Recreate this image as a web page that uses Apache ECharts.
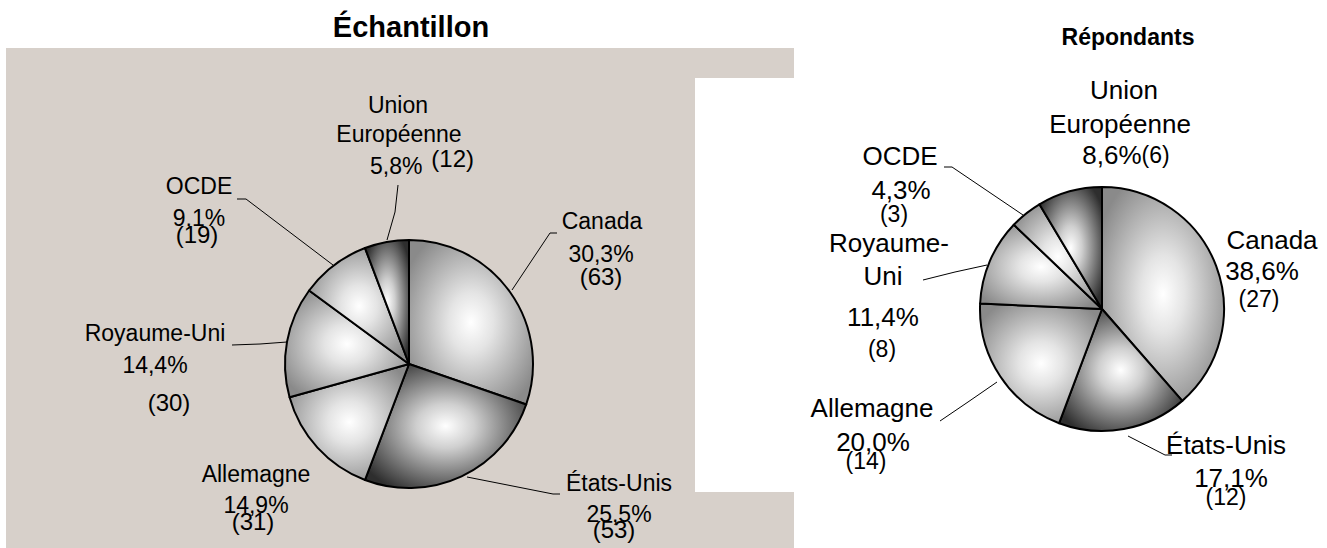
<!DOCTYPE html>
<html>
<head>
<meta charset="utf-8">
<title>Échantillon / Répondants</title>
<script src="https://cdn.jsdelivr.net/npm/echarts@6/dist/echarts.min.js"></script>
<style>
  html, body { margin: 0; background: #fff; }
  #chart { width: 1327px; height: 548px; }
</style>
</head>
<body>
<div id="chart"></div>
<script>
const categories = ['Canada', 'États-Unis', 'Allemagne', 'Royaume-Uni', 'OCDE', 'Union Européenne'];
const sampleCounts = [63, 53, 31, 30, 19, 12];
const respondentCounts = [27, 12, 14, 8, 3, 6];
const sampleTitle = 'Échantillon';
const respondentTitle = 'Répondants';
// how each chart breaks the long names
const sampleLabelNames = ['Canada', 'États-Unis', 'Allemagne', 'Royaume-Uni', 'OCDE', 'Union\nEuropéenne'];
const respondentLabelNames = ['Canada', 'États-Unis', 'Allemagne', 'Royaume-\nUni', 'OCDE', 'Union\nEuropéenne'];

const FONT = '"Liberation Sans", Arial, sans-serif';

// label rows: [part, centre x, middle y, raise]  n0/n1 = name lines, p = percent, c = count, pc = percent + count
const sampleRows = [
    [['n0', 602, 221], ['p', 601, 254], ['c', 601, 276]],
    [['n0', 619, 483], ['p', 619, 514], ['c', 614, 529]],
    [['n0', 256, 474], ['p', 256, 505], ['c', 253, 521]],
    [['n0', 155, 333], ['p', 155, 365], ['c', 169, 402]],
    [['n0', 199, 186], ['p', 199, 218], ['c', 197, 234]],
    [['n0', 398, 105], ['n1', 399, 134], ['pc', 422, 166, 8]]
];
const respondentRows = [
    [['n0', 1272, 240], ['p', 1262, 271], ['c', 1259, 299]],
    [['n0', 1226, 445], ['p', 1231, 478], ['c', 1226, 497]],
    [['n0', 872, 408], ['p', 873, 442], ['c', 866, 461]],
    [['n0', 889, 243], ['n1', 883, 276], ['p', 883, 317], ['c', 882, 349]],
    [['n0', 900, 156], ['p', 901, 190], ['c', 894, 214]],
    [['n0', 1124, 90], ['n1', 1120, 124], ['pc', 1126, 155, 0]]
];
// leader lines (null = none)
const sampleLines = [
    [[557, 233], [550, 233], [512, 290]],
    [[560, 494], [553, 494], [467, 477]],
    null,
    [[232, 345], [260, 344], [287, 342]],
    [[237, 199], [246, 199], [333, 265]],
    [[398, 185], [395, 212], [387, 240]]
];
const respondentLines = [
    null,
    [[1172, 455], [1165, 455], [1128, 436]],
    [[940, 421], [968, 402], [997, 382]],
    [[923, 280], [955, 272], [987, 265]],
    [[944, 167], [952, 167], [1023, 215]],
    null
];
const sampleShades = ['light', 'dark', 'light', 'light', 'light', 'dark'];
const respondentShades = ['light', 'dark', 'light', 'light', 'light', 'dark'];

function shadeFill(kind) {
    const edge = kind === 'dark' ? '#2e2e2e' : '#8a8a8a';
    const mid = kind === 'dark' ? '#cfcfcf' : '#e4e4e4';
    return {
        type: 'radial', x: 0.5, y: 0.5, r: 0.6,
        colorStops: [
            { offset: 0, color: '#ffffff' },
            { offset: 0.3, color: mid },
            { offset: 1, color: edge }
        ]
    };
}

// half line heights so every row's middle lands on its y
function fitHalves(ys) {
    let best = null;
    for (let h0 = 4; h0 <= 30; h0 += 0.5) {
        const hs = [h0];
        for (let j = 1; j < ys.length; j++) hs.push(ys[j] - ys[j - 1] - hs[j - 1]);
        if (!best || Math.min(...hs) > Math.min(...best)) best = hs;
    }
    return best;
}

function buildPie(values, labelNames, rows, lines, shades, center, radius, textSize, countSize) {
    const total = values.reduce((a, b) => a + b, 0);
    const rich = {};
    const texts = [];
    const anchors = [];
    values.forEach((v, i) => {
        const nameParts = labelNames[i].split('\n');
        const pct = (v / total * 100).toFixed(1).replace('.', ',') + '%';
        const r = rows[i];
        const x0 = r[0][1];
        const halves = fitHalves(r.map(row => row[2]));
        anchors.push([x0, r[0][2] - halves[0]]);
        const parts = r.map((row, j) => {
            const kind = row[0];
            const dx = row[1] - x0;
            const key = 'r' + i + '_' + j;
            rich[key] = {
                fontFamily: FONT,
                fontSize: kind === 'c' ? countSize : textSize,
                color: '#000',
                align: 'center',
                lineHeight: 2 * halves[j],
                padding: [0, dx < 0 ? -2 * dx : 0, 0, dx > 0 ? 2 * dx : 0]
            };
            if (kind === 'n0') return '{' + key + '|' + nameParts[0] + '}';
            if (kind === 'n1') return '{' + key + '|' + nameParts[1] + '}';
            if (kind === 'p') return '{' + key + '|' + pct + '}';
            if (kind === 'c') return '{' + key + '|(' + v + ')}';
            rich[key + 'c'] = {
                fontFamily: FONT,
                fontSize: countSize,
                color: '#000',
                align: 'center',
                lineHeight: 2 * halves[j],
                padding: [0, 0, 2 * (row[3] || 0), row[3] ? 9 : 0]
            };
            return '{' + key + '|' + pct + '}{' + key + 'c|(' + v + ')}';
        });
        texts.push(parts.join('\n'));
    });

    return {
        type: 'pie',
        center: center,
        radius: radius,
        startAngle: 90,
        clockwise: true,
        avoidLabelOverlap: false,
        animation: false,
        silent: true,
        itemStyle: { borderColor: '#000', borderWidth: 2 },
        label: {
            show: true,
            position: 'outside',
            width: 300,
            overflow: 'none',
            color: '#000',
            formatter: p => texts[p.dataIndex],
            rich: rich
        },
        labelLine: { show: true, lineStyle: { color: '#000', width: 1 } },
        labelLayout: p => ({
            x: anchors[p.dataIndex][0],
            y: anchors[p.dataIndex][1],
            align: 'center',
            verticalAlign: 'top',
            labelLinePoints: lines[p.dataIndex] || undefined
        }),
        data: values.map((v, i) => ({
            name: categories[i],
            value: v,
            itemStyle: { color: shadeFill(shades[i]) },
            labelLine: { show: !!lines[i] }
        }))
    };
}

const chart = echarts.init(document.getElementById('chart'), null, { renderer: 'svg' });

chart.setOption({
    backgroundColor: '#fff',
    animation: false,
    title: [
        {
            text: sampleTitle, left: 411, top: 12, textAlign: 'center', padding: 0,
            textStyle: { fontFamily: FONT, fontSize: 29, fontWeight: 'bold', color: '#000' }
        },
        {
            text: respondentTitle, left: 1128, top: 25, textAlign: 'center', padding: 0,
            textStyle: { fontFamily: FONT, fontSize: 23, fontWeight: 'bold', color: '#000' }
        }
    ],
    graphic: [
        { type: 'rect', z: -10, silent: true, shape: { x: 6, y: 48, width: 788, height: 500 }, style: { fill: '#d7d0ca' } },
        { type: 'rect', z: -9, silent: true, shape: { x: 695, y: 78, width: 99, height: 414 }, style: { fill: '#ffffff' } }
    ],
    series: [
        buildPie(sampleCounts, sampleLabelNames, sampleRows, sampleLines, sampleShades, [409, 364], 124, 23, 24),
        buildPie(respondentCounts, respondentLabelNames, respondentRows, respondentLines, respondentShades, [1102, 309], 122, 26, 23)
    ]
});
</script>
</body>
</html>
